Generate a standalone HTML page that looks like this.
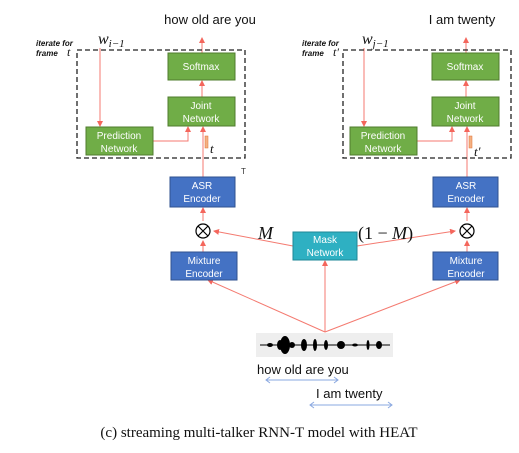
<!DOCTYPE html>
<html><head><style>body{margin:0;background:#fff}svg{display:block}</style></head><body>
<svg width="519" height="453" viewBox="0 0 519 453" xmlns="http://www.w3.org/2000/svg" font-family="Liberation Sans, sans-serif">
<defs><marker id="a" markerWidth="6" markerHeight="6" refX="5" refY="3" orient="auto"><path d="M0,0L6,3L0,6z" fill="#f4665c"/></marker></defs>
<g stroke="#f47a70" stroke-width="1" fill="none" marker-end="url(#a)">
<line x1="202" y1="53" x2="202" y2="38"/><line x1="202" y1="97" x2="202" y2="81"/>
<line x1="203" y1="177" x2="203" y2="127"/><line x1="100" y1="48" x2="100" y2="126"/>
<polyline points="153,141 188,141 188,127"/>
<line x1="203" y1="221" x2="203" y2="208"/><line x1="203" y1="252" x2="203" y2="241"/>
<line x1="293" y1="246" x2="214" y2="231"/><line x1="357" y1="246" x2="455" y2="231"/>
<line x1="467" y1="221" x2="467" y2="208"/><line x1="467" y1="252" x2="467" y2="241"/>
<line x1="466" y1="53" x2="466" y2="38"/><line x1="466" y1="97" x2="466" y2="81"/>
<line x1="467" y1="177" x2="467" y2="127"/><line x1="364" y1="48" x2="364" y2="126"/>
<polyline points="417,141 452,141 452,127"/>
<line x1="325" y1="332" x2="325" y2="261"/><line x1="325" y1="332" x2="208" y2="280"/><line x1="325" y1="332" x2="460" y2="280"/>
</g>
<g fill="none" stroke="#222" stroke-width="1.3" stroke-dasharray="5,3">
<rect x="77" y="50" width="168" height="108"/><rect x="343" y="50" width="168" height="108"/></g>
<g stroke="#4f7c2d" fill="#70ad47">
<rect x="168" y="53" width="67" height="27"/><rect x="168" y="97" width="67" height="29"/><rect x="86" y="127" width="67" height="28"/>
<rect x="432" y="53" width="67" height="27"/><rect x="432" y="97" width="67" height="29"/><rect x="350" y="127" width="67" height="28"/></g>
<g stroke="#2f528f" fill="#4472c4">
<rect x="170" y="177" width="65" height="30"/><rect x="171" y="252" width="66" height="28"/>
<rect x="433" y="177" width="65" height="30"/><rect x="433" y="252" width="65" height="28"/></g>
<rect x="293" y="232" width="64" height="28" fill="#2eb0c2" stroke="#1f8797"/>
<g fill="#fff" font-size="10" text-anchor="middle">
<text x="201" y="70">Softmax</text><text x="201" y="109">Joint</text><text x="201" y="122">Network</text>
<text x="119" y="139">Prediction</text><text x="119" y="152">Network</text>
<text x="465" y="70">Softmax</text><text x="465" y="109">Joint</text><text x="465" y="122">Network</text>
<text x="383" y="139">Prediction</text><text x="383" y="152">Network</text>
<text x="202" y="189">ASR</text><text x="202" y="202">Encoder</text>
<text x="466" y="189">ASR</text><text x="466" y="202">Encoder</text>
<text x="204" y="264">Mixture</text><text x="204" y="277">Encoder</text>
<text x="466" y="264">Mixture</text><text x="466" y="277">Encoder</text>
<text x="325" y="243">Mask</text><text x="325" y="256">Network</text></g>
<g stroke="#000" stroke-width="1.2" fill="#fff">
<circle cx="203" cy="231" r="7"/><circle cx="467" cy="231" r="7"/></g>
<g stroke="#000" stroke-width="1.2"><path d="M198,226l10,10M208,226l-10,10M462,226l10,10M472,226l-10,10"/></g>
<g fill="#f4b183" stroke="#e07030" stroke-width="0.5"><rect x="205" y="136" width="3" height="12"/><rect x="469" y="136" width="3" height="12"/></g>
<g font-size="13" fill="#111" text-anchor="middle"><text x="210" y="24">how old are you</text><text x="462" y="24">I am twenty</text></g>
<g font-family="Liberation Serif, serif" font-style="italic" font-size="16" fill="#111">
<text x="98" y="44">w<tspan font-size="11" dy="3">i−1</tspan></text>
<text x="362" y="44">w<tspan font-size="11" dy="3">j−1</tspan></text>
<text x="210" y="153" font-size="13">t</text><text x="474" y="156" font-size="13">t′</text>
<text x="258" y="239" font-size="18">M</text>
<text x="358" y="239" font-size="18" font-style="normal">(1 − <tspan font-style="italic">M</tspan>)</text>
<text x="67" y="56" font-size="12">t</text><text x="333" y="56" font-size="12">t′</text></g>
<g font-size="8" font-weight="bold" font-style="italic" fill="#111">
<text x="36" y="46">iterate for</text><text x="36" y="56">frame</text>
<text x="302" y="46">iterate for</text><text x="302" y="56">frame</text></g>
<text x="241" y="174" font-size="8" fill="#333">T</text>
<rect x="256" y="333" width="137" height="24" fill="#eee"/>
<line x1="260" y1="345" x2="390" y2="345" stroke="#000" stroke-width="1"/>
<g fill="#000"><ellipse cx="285" cy="345" rx="5" ry="9"/><ellipse cx="280" cy="345" rx="3" ry="5"/><ellipse cx="292" cy="345" rx="3" ry="3"/><ellipse cx="304" cy="345" rx="3" ry="6"/><ellipse cx="315" cy="345" rx="2" ry="6"/><ellipse cx="326" cy="345" rx="2" ry="5"/><ellipse cx="341" cy="345" rx="4" ry="4"/><ellipse cx="368" cy="345" rx="1.5" ry="5"/><ellipse cx="379" cy="345" rx="3" ry="4"/><ellipse cx="270" cy="345" rx="3" ry="2"/><ellipse cx="355" cy="345" rx="3" ry="1.5"/></g>
<g font-size="13" fill="#111"><text x="257" y="374">how old are you</text><text x="316" y="398">I am twenty</text></g>
<g stroke="#8aa8e0" fill="none"><path d="M266,380H338M270,377l-4,3 4,3M334,377l4,3-4,3M310,405H392M314,402l-4,3 4,3M388,402l4,3-4,3"/></g>
<text x="259" y="437" font-family="Liberation Serif, serif" font-size="15" text-anchor="middle" fill="#111">(c) streaming multi-talker RNN-T model with HEAT</text>
</svg></body></html>
